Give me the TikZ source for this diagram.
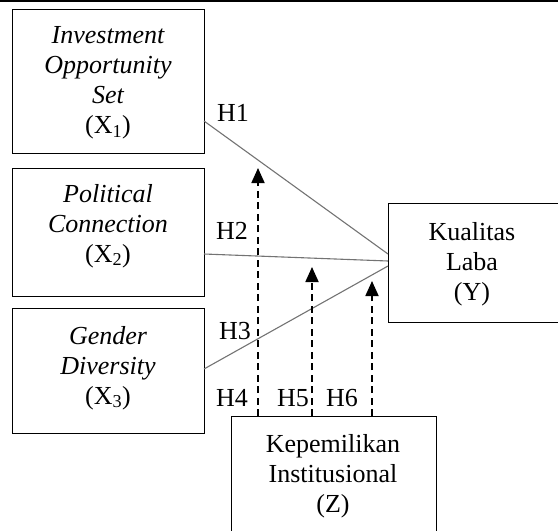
\documentclass[tikz,border=0pt]{standalone}
\usepackage{fontspec}
\setmainfont{Liberation Serif}
\usetikzlibrary{arrows.meta}
\tikzset{
  box/.style={draw=black, line width=1.4pt, rectangle, inner sep=0pt, anchor=north west},
  boxtext/.style={align=center, inner sep=0pt, font=\fontsize{26}{30}\selectfont},
  hlabel/.style={inner sep=0pt, font=\fontsize{26}{30}\selectfont},
  path/.style={draw=black!55, line width=1.1pt},
  modarrow/.style={draw=black, line width=1.8pt, dash pattern=on 7pt off 4.5pt, -{Triangle[length=15pt,width=13pt]}}
}
\begin{document}
\begin{tikzpicture}[x=1pt,y=-1pt]
\useasboundingbox (0,0) rectangle (558,531);
\clip (0,0) rectangle (558,531);
% top rule
\coordinate (tl) at (0,1);
\coordinate (tr) at (558,1);
\draw[line width=2pt] (tl) -- (tr);
% boxes
\node[box, minimum width=192pt, minimum height=144pt] (X1) at (12,9) {};
\node[box, minimum width=192pt, minimum height=128pt] (X2) at (12,168) {};
\node[box, minimum width=192pt, minimum height=125pt] (X3) at (12,308) {};
\node[box, minimum width=170pt, minimum height=119pt] (Y) at (388,203) {};
\node[box, minimum width=205pt, minimum height=130pt] (Z) at (231,416) {};
% texts
\node[boxtext] (tX1) at (108,83) {\itshape Investment\\\itshape Opportunity\\\itshape Set\\(X\textsubscript{1})};
\node[boxtext] (tX2) at (108,226) {\itshape Political\\\itshape Connection\\(X\textsubscript{2})};
\node[boxtext] (tX3) at (108,368) {\itshape Gender\\\itshape Diversity\\(X\textsubscript{3})};
\node[boxtext] (tY) at (472,264) {Kualitas\\Laba\\(Y)};
\node[boxtext] (tZ) at (333,476) {Kepemilikan\\Institusional\\(Z)};
% direct paths
\coordinate (s1) at (204,121);
\coordinate (s2) at (204,254);
\coordinate (s3) at (204,369);
\coordinate (e1) at (388,254);
\coordinate (e2) at (388,261);
\coordinate (e3) at (388,266);
\draw[path] (s1) -- (e1);
\draw[path] (s2) -- (e2);
\draw[path] (s3) -- (e3);
% moderating arrows
\coordinate (z4) at (258,416);
\coordinate (z5) at (312,416);
\coordinate (z6) at (372,416);
\coordinate (t4) at (258,168);
\coordinate (t5) at (312,267);
\coordinate (t6) at (372,281);
\draw[modarrow] (z4) -- (t4);
\draw[modarrow] (z5) -- (t5);
\draw[modarrow] (z6) -- (t6);
% labels
\node[hlabel] (H1) at (233,113) {H1};
\node[hlabel] (H2) at (232,231) {H2};
\node[hlabel] (H3) at (235,331) {H3};
\node[hlabel] (H4) at (232,398) {H4};
\node[hlabel] (H5) at (293,398) {H5};
\node[hlabel] (H6) at (342,398) {H6};
\end{tikzpicture}
\end{document}
